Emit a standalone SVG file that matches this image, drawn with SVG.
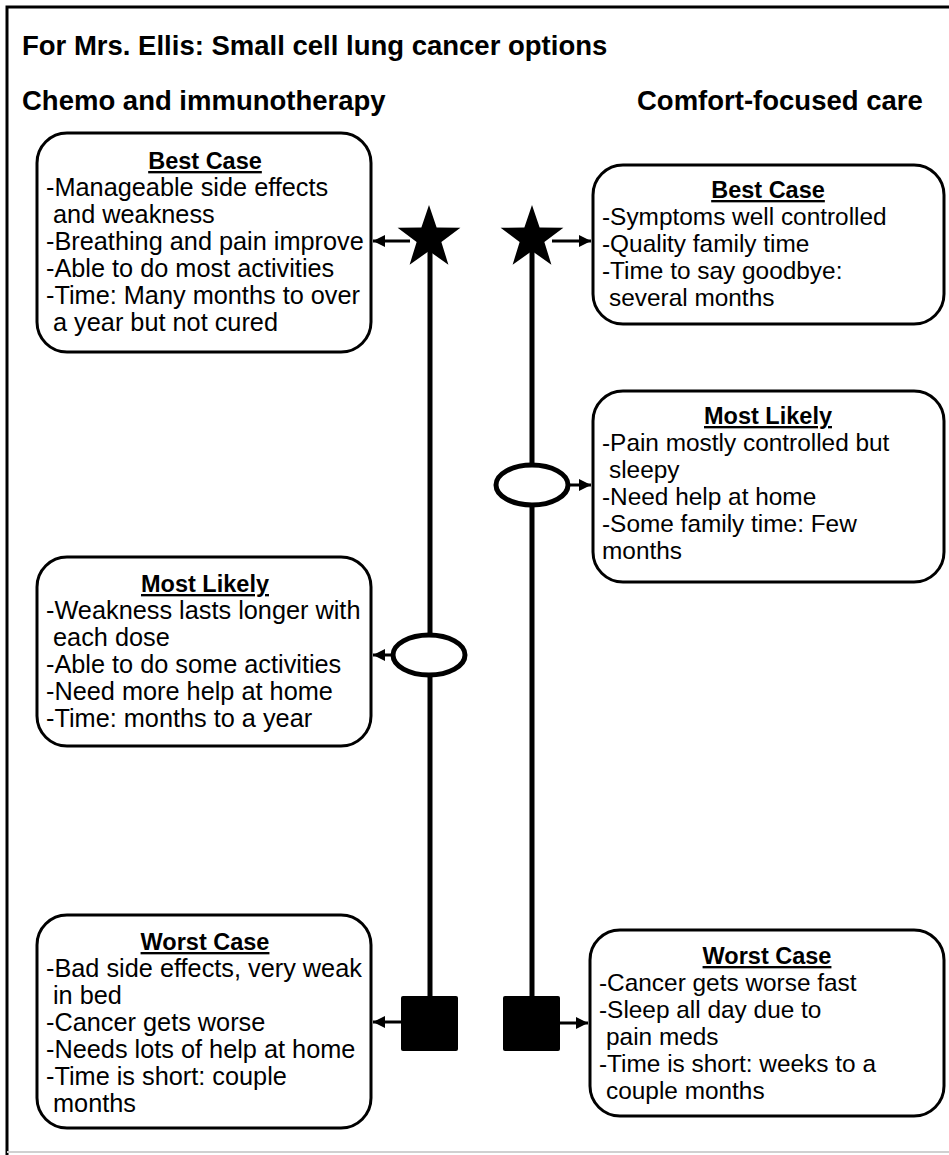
<svg xmlns="http://www.w3.org/2000/svg" width="949" height="1155" viewBox="0 0 949 1155">
<style>
.box{fill:#fff;stroke:#000;stroke-width:3}
.t{font-family:"Liberation Sans",Arial,sans-serif;font-size:25.3px;fill:#000}
.r .t{font-size:24.4px}
.h{font-family:"Liberation Sans",Arial,sans-serif;font-size:23.5px;font-weight:bold;fill:#000;text-anchor:middle;text-decoration:underline}
.hd{font-family:"Liberation Sans",Arial,sans-serif;font-size:27.5px;font-weight:bold;fill:#000}
.conn{stroke:#000;stroke-width:3;fill:none}
.axis{stroke:#000;stroke-width:5;fill:none}
</style>
<defs>
<marker id="ah" viewBox="0 0 10 10" refX="10" refY="5" markerWidth="4" markerHeight="4" orient="auto" markerUnits="strokeWidth">
<path d="M0,0 L10,5 L0,10 z" fill="#000"/>
</marker>
<path id="star" d="M0,-33 L7.64,-10.52 L31.39,-10.2 L12.36,4.02 L19.4,26.7 L0,13 L-19.4,26.7 L-12.36,4.02 L-31.39,-10.2 L-7.64,-10.52 Z" fill="#000"/>
</defs>
<rect x="0" y="0" width="949" height="1155" fill="#fff"/>
<path d="M7,1155 V7 H949" fill="none" stroke="#000" stroke-width="3"/>
<line x1="7" y1="1152" x2="949" y2="1152" stroke="#d0d0d0" stroke-width="2"/>
<g id="headers">
<text class="hd" x="22" y="55">For Mrs. Ellis: Small cell lung cancer options</text>
<text class="hd" x="22" y="110">Chemo and immunotherapy</text>
<text class="hd" x="637" y="110">Comfort-focused care</text>
</g>
<g id="connectors">
<line class="axis" x1="430" y1="240" x2="430" y2="1000"/>
<line class="axis" x1="532" y1="240" x2="532" y2="1000"/>
<line class="conn" x1="410" y1="241" x2="373" y2="241" marker-end="url(#ah)"/>
<line class="conn" x1="552" y1="241" x2="591" y2="241" marker-end="url(#ah)"/>
<line class="conn" x1="495" y1="485" x2="591" y2="485" marker-end="url(#ah)"/>
<line class="conn" x1="400" y1="655" x2="373" y2="655" marker-end="url(#ah)"/>
<line class="conn" x1="405" y1="1022" x2="373" y2="1022" marker-end="url(#ah)"/>
<line class="conn" x1="555" y1="1023" x2="588" y2="1023" marker-end="url(#ah)"/>
</g>
<g id="markers">
<use href="#star" x="429" y="238"/>
<use href="#star" x="532" y="238"/>
<ellipse cx="532" cy="485" rx="36" ry="20" fill="#fff" stroke="#000" stroke-width="5"/>
<ellipse cx="429" cy="655" rx="36" ry="20" fill="#fff" stroke="#000" stroke-width="5"/>
<rect x="401" y="996" width="57" height="55" rx="2" fill="#000"/>
<rect x="503" y="996" width="57" height="55" rx="2" fill="#000"/>
</g>
<g id="chemo-best">
<rect class="box" x="37" y="133" width="334" height="219" rx="30"/>
<text class="h" x="205" y="169">Best Case</text>
<text class="t" x="46" y="196">-Manageable side effects</text>
<text class="t" x="53" y="223">and weakness</text>
<text class="t" x="46" y="250">-Breathing and pain improve</text>
<text class="t" x="46" y="277">-Able to do most activities</text>
<text class="t" x="46" y="304">-Time: Many months to over</text>
<text class="t" x="53" y="331">a year but not cured</text>
</g>
<g id="comfort-best" class="r">
<rect class="box" x="593" y="165" width="351" height="159" rx="30"/>
<text class="h" x="768" y="198">Best Case</text>
<text class="t" x="602" y="225">-Symptoms well controlled</text>
<text class="t" x="602" y="252">-Quality family time</text>
<text class="t" x="602" y="279">-Time to say goodbye:</text>
<text class="t" x="609" y="306">several months</text>
</g>
<g id="comfort-likely" class="r">
<rect class="box" x="593" y="391" width="351" height="191" rx="30"/>
<text class="h" x="768" y="424">Most Likely</text>
<text class="t" x="602" y="451">-Pain mostly controlled but</text>
<text class="t" x="609" y="478">sleepy</text>
<text class="t" x="602" y="505">-Need help at home</text>
<text class="t" x="602" y="532">-Some family time: Few</text>
<text class="t" x="602" y="559">months</text>
</g>
<g id="chemo-likely">
<rect class="box" x="37" y="557" width="334" height="189" rx="30"/>
<text class="h" x="205" y="592">Most Likely</text>
<text class="t" x="46" y="619">-Weakness lasts longer with</text>
<text class="t" x="53" y="646">each dose</text>
<text class="t" x="46" y="673">-Able to do some activities</text>
<text class="t" x="46" y="700">-Need more help at home</text>
<text class="t" x="46" y="727">-Time: months to a year</text>
</g>
<g id="chemo-worst">
<rect class="box" x="37" y="915" width="334" height="213" rx="30"/>
<text class="h" x="205" y="950">Worst Case</text>
<text class="t" x="46" y="977">-Bad side effects, very weak</text>
<text class="t" x="53" y="1004">in bed</text>
<text class="t" x="46" y="1031">-Cancer gets worse</text>
<text class="t" x="46" y="1058">-Needs lots of help at home</text>
<text class="t" x="46" y="1085">-Time is short: couple</text>
<text class="t" x="53" y="1112">months</text>
</g>
<g id="comfort-worst" class="r">
<rect class="box" x="590" y="930" width="354" height="186" rx="30"/>
<text class="h" x="767" y="964">Worst Case</text>
<text class="t" x="599" y="991">-Cancer gets worse fast</text>
<text class="t" x="599" y="1018">-Sleep all day due to</text>
<text class="t" x="606" y="1045">pain meds</text>
<text class="t" x="599" y="1072">-Time is short: weeks to a</text>
<text class="t" x="606" y="1099">couple months</text>
</g>
</svg>
